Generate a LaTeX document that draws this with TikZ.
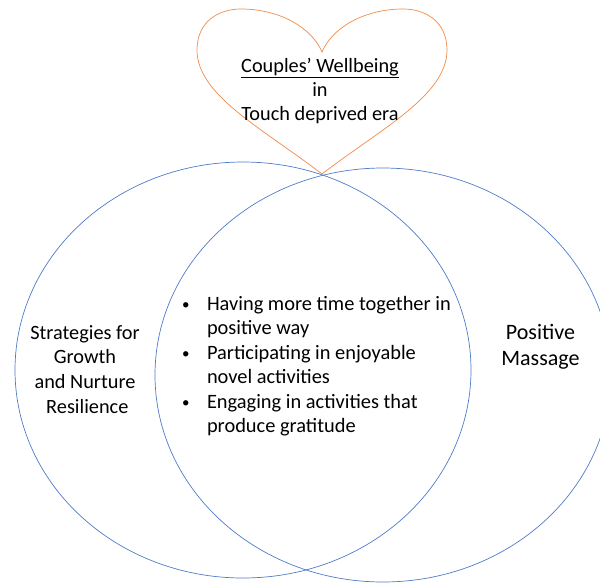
\documentclass[tikz,border=0pt]{standalone}
\usepackage{fontspec}
\setmainfont{Carlito}
\definecolor{vennblue}{HTML}{4F7BC8}
\definecolor{heartorange}{HTML}{F08A4B}
\newcommand{\smallbullet}{\raisebox{0.6pt}{\fontsize{15}{15}\selectfont •}}
\tikzset{
  vennline/.style={draw=vennblue, line width=0.7pt},
  heartline/.style={draw=heartorange, line width=0.7pt},
  txt/.style={inner sep=0pt, outer sep=0pt, anchor=base, align=center},
}
\begin{document}
\begin{tikzpicture}[x=1pt,y=-1pt]
\useasboundingbox (0,0) rectangle (600,582);
\clip (0,0) rectangle (600,582);
% Venn ellipses
\draw[vennline] (243,370) ellipse [x radius=228, y radius=208];
\draw[vennline] (383,375) ellipse [x radius=228, y radius=207];
% Heart
\coordinate (tip) at (322,174);
\draw[heartline] (tip) .. controls (262,128) and (197,95) .. (197,50)
  .. controls (197,22) and (218,9) .. (241,9)
  .. controls (280,9) and (312,28) .. (322,52)
  .. controls (332,28) and (364,9) .. (403,9)
  .. controls (426,9) and (447,22) .. (447,50)
  .. controls (447,95) and (382,128) .. (tip) -- cycle;
% Heart text
\node[txt] (title) at (320,72.5) {\fontsize{20.3}{24.1}\selectfont
  \begin{tabular}[t]{@{}c@{}}\underline{Couples’ Wellbeing}\\ in\\ Touch deprived era\end{tabular}};
% Left text
\node[txt] (left) at (85,339) {\fontsize{20.3}{24.8}\selectfont
  \begin{tabular}[t]{@{}c@{}}Strategies for\\ Growth\\ and Nurture\\ \ Resilience\end{tabular}};
% Right text
\node[txt] (right) at (540.5,339.3) {\fontsize{22}{26.5}\selectfont
  \begin{tabular}[t]{@{}c@{}}Positive\\ Massage\end{tabular}};
% Centre bullets
\node[inner sep=0pt, outer sep=0pt, anchor=base west] (centre) at (182,310) {\fontsize{20.4}{24.5}\selectfont
  \begin{tabular}[t]{@{}p{25pt}@{}l@{}}
  \smallbullet & Having more time together in\\
    & positive way\\
  \smallbullet & Participating in enjoyable\\
    & novel activities\\
  \smallbullet & Engaging in activities that\\
    & produce gratitude
  \end{tabular}};
\end{tikzpicture}
\end{document}
